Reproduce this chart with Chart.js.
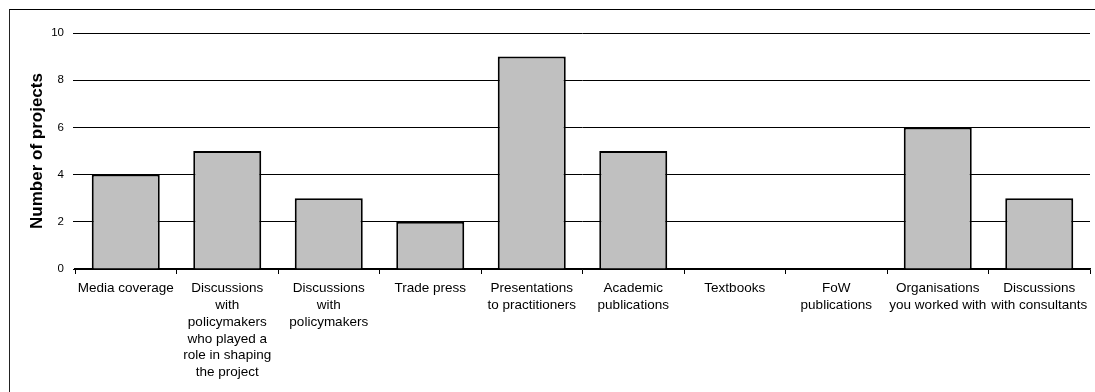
<!DOCTYPE html>
<html>
<head>
<meta charset="utf-8">
<script src="https://cdn.jsdelivr.net/npm/chart.js@4.4.0/dist/chart.umd.min.js"></script>
<style>
  html, body { margin: 0; padding: 0; background: #fff; overflow: hidden; }
  #wrap { position: relative; width: 1095px; height: 392px; }
  #frame { position: absolute; left: 9px; top: 9px; width: 1200px; height: 500px;
           border-left: 1px solid #222; border-top: 1px solid #000; box-sizing: border-box; }
  canvas { position: absolute; left: 0; top: 0; }
</style>
</head>
<body>
<div id="wrap">
  <div id="frame"></div>
  <canvas id="c" width="1095" height="392"></canvas>
</div>
<script>
// Dissemination channels (multi-line category labels)
const categories = [
  ["Media coverage"],
  ["Discussions", "with", "policymakers", "who played a", "role in shaping", "the project"],
  ["Discussions", "with", "policymakers"],
  ["Trade press"],
  ["Presentations", "to practitioners"],
  ["Academic", "publications"],
  ["Textbooks"],
  ["FoW", "publications"],
  ["Organisations", "you worked with"],
  ["Discussions", "with consultants"]
];
// Number of projects per channel
const projectCounts = [4, 5, 3, 2, 9, 5, 0, 0, 6, 3];
const yTitle = "Number of projects";
const yMin = 0, yMax = 10, yStep = 2;

const FONT = "Arial, 'Liberation Sans', sans-serif";

new Chart(document.getElementById("c"), {
  type: "bar",
  data: {
    labels: categories,
    datasets: [{
      data: projectCounts,
      backgroundColor: "#c0c0c0",
      borderColor: "#000",
      // empty categories get no outline so the axis line stays uniform
      borderWidth: (ctx) => (ctx.raw === 0 ? 0 : 2),
      categoryPercentage: 1,
      barPercentage: 0.67
    }]
  },
  options: {
    responsive: false,
    animation: false,
    layout: { padding: { top: 33, right: 5, left: 25, bottom: 0 } },
    plugins: { legend: { display: false }, tooltip: { enabled: false } },
    scales: {
      x: {
        grid: { offset: true, drawOnChartArea: false, drawTicks: true, tickLength: 5, color: "#000", lineWidth: 1 },
        border: { display: true, color: "#000", width: 1.5 },
        ticks: {
          autoSkip: false, maxRotation: 0, minRotation: 0, padding: 6,
          color: "#000", font: { family: FONT, size: 13.5, lineHeight: 1.245 }
        },
        afterFit: (s) => { s.height = 392 - 269; }
      },
      y: {
        min: yMin, max: yMax,
        grid: { color: "#000", lineWidth: 1, drawTicks: true, tickLength: 2 },
        border: { display: false },
        ticks: { stepSize: yStep, color: "#000", padding: 9, font: { family: FONT, size: 11.5 } },
        title: { display: true, text: yTitle, color: "#000", padding: { top: 2, bottom: 0 },
                 font: { family: FONT, size: 17, weight: "bold" } },
        afterFit: (s) => { s.width = 50; }
      }
    }
  }
});
</script>
</body>
</html>
